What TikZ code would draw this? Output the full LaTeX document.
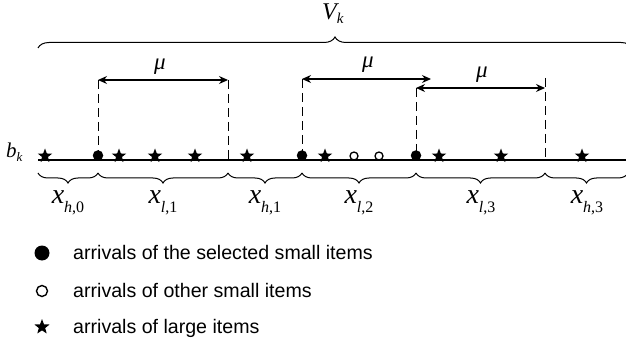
\documentclass[tikz,border=0pt]{standalone}
\usepackage{fontspec}
\setmainfont{Liberation Serif}
\newfontfamily\lsans{Liberation Sans}
\usetikzlibrary{arrows.meta,decorations.pathreplacing,shapes.geometric}
\newcommand{\fsz}[1]{\fontsize{#1}{#1}\selectfont}
\newcommand{\xlab}[2]{{\fsz{28}\itshape x}\raisebox{-9pt}{\fsz{16}\itshape #1\upshape ,#2}}
\tikzset{
  axis/.style={line width=2.2pt},
  guide/.style={line width=1pt, dash pattern=on 9pt off 5pt},
  span/.style={line width=1.2pt, {Stealth[length=9pt,width=8pt]}-{Stealth[length=9pt,width=8pt]}},
  starmark/.style={star, star points=5, star point ratio=2.4, fill=black, inner sep=0pt, minimum size=15pt},
  dotmark/.style={circle, fill=black, inner sep=0pt, minimum size=10.5pt},
  ringmark/.style={circle, draw=black, line width=1.3pt, fill=white, inner sep=0pt, minimum size=8pt},
  topbrace/.style={decorate, decoration={brace, amplitude=11pt}, line width=1pt},
  lowbrace/.style={decorate, decoration={brace, amplitude=10pt, mirror}, line width=1pt},
  mulab/.style={inner sep=0pt, font=\fsz{23}\itshape},
  legtext/.style={anchor=base west, inner sep=0pt, font=\lsans\fsz{19.6}},
  xl/.style={anchor=base, inner sep=0pt}
}
\begin{document}
\begin{tikzpicture}[x=1pt,y=-1pt]
\useasboundingbox (0,0) rectangle (626,339);
% event points on the line
\coordinate (L0) at (38,160);
\coordinate (E1) at (98,160);
\coordinate (E2) at (228,160);
\coordinate (E3) at (302,160);
\coordinate (E4) at (416,160);
\coordinate (E5) at (545,160);
\coordinate (R) at (626,160);
% top ends of guides
\coordinate (T1) at (98,80);
\coordinate (T2) at (228,80);
\coordinate (T3) at (302,79);
\coordinate (T3e) at (431,79);
\coordinate (T4) at (416,88);
\coordinate (T5) at (545,78);
\coordinate (T5a) at (545,88);
% top brace
\coordinate (VL) at (38,48);
\coordinate (VR) at (632,48);
\draw[topbrace] (VL) -- (VR);
\node[anchor=base west, inner sep=0pt] (V) at (322,20) {\fsz{24}\itshape V\raisebox{-4pt}{\fsz{15}k}};
% guides
\draw[guide] (T1) -- (E1);
\draw[guide] (T2) -- (E2);
\draw[guide] (T3) -- (E3);
\draw[guide] (T4) -- (E4);
\draw[guide] (T5) -- (E5);
% mu arrows
\draw[span] (T1) -- (T2);
\draw[span] (T3) -- (T3e);
\draw[span] (T4) -- (T5a);
\node[mulab] (m1) at (160,67) {μ};
\node[mulab] (m2) at (368,65) {μ};
\node[mulab] (m3) at (482,75) {μ};
% axis
\draw[axis] (L0) -- (R);
\node[anchor=base west, inner sep=0pt] (bk) at (6,158) {\fsz{21}\itshape b\raisebox{-4pt}{\fsz{13}k}};
% stars
\foreach \i/\x in {1/45,2/119,3/155,4/195,5/247,6/325,7/439,8/501,9/582}
  \node[starmark] (s\i) at (\x,156) {};
\node[dotmark] (d1) at (98,155.5) {};
\node[dotmark] (d2) at (302,155.5) {};
\node[dotmark] (d3) at (416,155.5) {};
\node[ringmark] (r1) at (354,156) {};
\node[ringmark] (r2) at (379,156) {};
% lower braces
\coordinate (B0) at (38,173);
\coordinate (B1) at (98,173);
\coordinate (B2) at (228,173);
\coordinate (B3) at (302,173);
\coordinate (B4) at (416,173);
\coordinate (B5) at (545,173);
\coordinate (B6) at (628,173);
\draw[lowbrace] (B0) -- (B1);
\draw[lowbrace] (B1) -- (B2);
\draw[lowbrace] (B2) -- (B3);
\draw[lowbrace] (B3) -- (B4);
\draw[lowbrace] (B4) -- (B5);
\draw[lowbrace] (B5) -- (B6);
\node[xl] (x0) at (68,204) {\xlab{h}{0}};
\node[xl] (x1) at (163,204) {\xlab{l}{1}};
\node[xl] (x2) at (265,204) {\xlab{h}{1}};
\node[xl] (x3) at (359,204) {\xlab{l}{2}};
\node[xl] (x4) at (481,204) {\xlab{l}{3}};
\node[xl] (x5) at (587,204) {\xlab{h}{3}};
% legend
\node[circle, fill=black, inner sep=0pt, minimum size=15pt] (k1) at (42,253) {};
\node[circle, draw=black, line width=1.4pt, inner sep=0pt, minimum size=11pt] (k2) at (42,291) {};
\node[starmark, minimum size=16pt] (k3) at (42,327) {};
\node[legtext] (t1) at (73,259) {arrivals of the selected small items};
\node[legtext] (t2) at (73,297) {arrivals of other small items};
\node[legtext] (t3) at (73,333) {arrivals of large items};
\end{tikzpicture}
\end{document}
